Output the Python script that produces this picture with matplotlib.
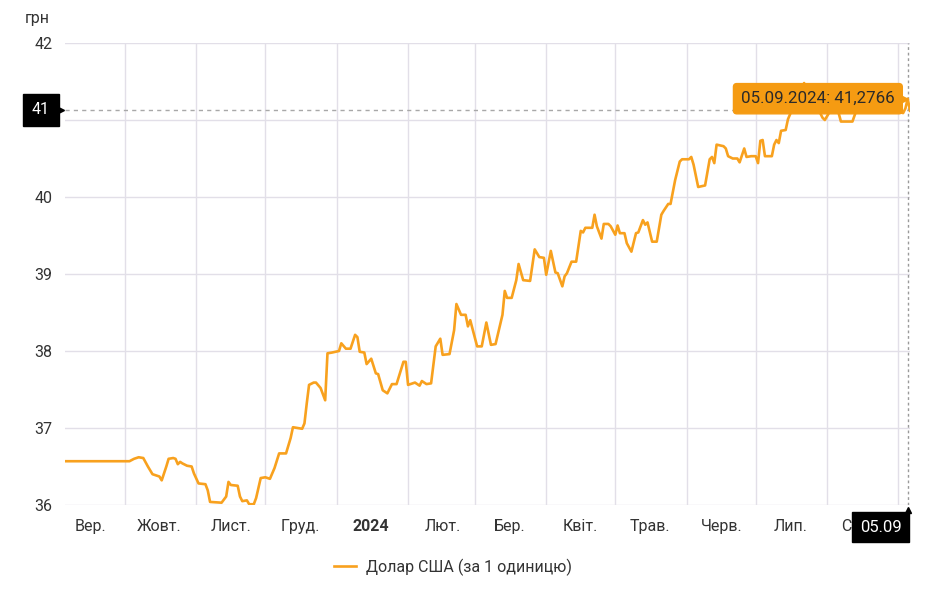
import matplotlib
matplotlib.use('Agg')
import matplotlib.pyplot as plt
import matplotlib.transforms as mtransforms
import matplotlib.dates as mdates
import pandas as pd

plt.rcParams['font.family'] = ['Roboto', 'DejaVu Sans']

# USD/UAH official rate
dates = [
    '2023-09-05', '2023-10-03', '2023-10-05', '2023-10-07', '2023-10-09', '2023-10-11',
    '2023-10-13', '2023-10-16', '2023-10-17', '2023-10-19', '2023-10-20', '2023-10-22',
    '2023-10-23', '2023-10-24', '2023-10-25', '2023-10-26', '2023-10-28', '2023-10-30',
    '2023-10-31', '2023-11-02', '2023-11-05', '2023-11-06', '2023-11-07', '2023-11-12',
    '2023-11-14', '2023-11-15', '2023-11-16', '2023-11-19', '2023-11-20', '2023-11-21',
    '2023-11-23', '2023-11-24', '2023-11-26', '2023-11-27', '2023-11-29', '2023-12-01',
    '2023-12-03', '2023-12-05', '2023-12-07', '2023-12-10', '2023-12-12', '2023-12-13',
    '2023-12-17', '2023-12-18', '2023-12-19', '2023-12-20', '2023-12-22', '2023-12-23',
    '2023-12-25', '2023-12-27', '2023-12-28', '2023-12-30',
    '2024-01-02', '2024-01-03', '2024-01-05', '2024-01-07', '2024-01-09', '2024-01-10',
    '2024-01-11', '2024-01-13', '2024-01-14', '2024-01-16', '2024-01-18', '2024-01-19',
    '2024-01-21', '2024-01-23', '2024-01-25', '2024-01-27', '2024-01-30', '2024-01-31',
    '2024-02-01', '2024-02-04', '2024-02-06', '2024-02-07', '2024-02-09', '2024-02-11',
    '2024-02-13', '2024-02-15', '2024-02-16', '2024-02-19', '2024-02-21', '2024-02-22',
    '2024-02-24', '2024-02-26', '2024-02-27', '2024-02-28', '2024-03-02', '2024-03-04',
    '2024-03-06', '2024-03-08', '2024-03-10', '2024-03-13', '2024-03-14', '2024-03-15',
    '2024-03-17', '2024-03-19', '2024-03-20', '2024-03-22', '2024-03-25', '2024-03-27',
    '2024-03-29', '2024-03-31', '2024-04-01', '2024-04-03', '2024-04-05', '2024-04-06',
    '2024-04-08', '2024-04-09', '2024-04-10', '2024-04-12', '2024-04-14', '2024-04-16',
    '2024-04-17', '2024-04-18', '2024-04-21', '2024-04-22', '2024-04-23', '2024-04-25',
    '2024-04-26', '2024-04-28', '2024-04-29', '2024-05-01', '2024-05-02', '2024-05-03',
    '2024-05-05', '2024-05-06', '2024-05-08', '2024-05-10', '2024-05-11', '2024-05-13',
    '2024-05-14', '2024-05-15', '2024-05-17', '2024-05-19', '2024-05-21', '2024-05-22',
    '2024-05-24', '2024-05-25', '2024-05-27', '2024-05-29', '2024-05-30', '2024-06-02',
    '2024-06-03', '2024-06-04', '2024-06-06', '2024-06-09', '2024-06-11', '2024-06-12',
    '2024-06-13', '2024-06-14', '2024-06-17', '2024-06-18', '2024-06-19', '2024-06-21',
    '2024-06-23', '2024-06-24', '2024-06-26', '2024-06-27', '2024-06-29', '2024-07-01',
    '2024-07-02', '2024-07-03', '2024-07-04', '2024-07-05', '2024-07-08', '2024-07-09',
    '2024-07-10', '2024-07-11', '2024-07-12', '2024-07-14', '2024-07-15', '2024-07-17',
    '2024-07-19', '2024-07-21', '2024-07-22', '2024-07-24', '2024-07-26', '2024-07-28',
    '2024-07-30', '2024-07-31', '2024-08-03', '2024-08-05', '2024-08-07', '2024-08-09',
    '2024-08-12', '2024-08-14', '2024-08-17', '2024-08-20', '2024-08-24', '2024-08-27',
    '2024-08-30', '2024-09-02', '2024-09-03', '2024-09-04', '2024-09-05', '2024-09-06',
]
values = [
    36.5686, 36.5686, 36.60, 36.62, 36.61, 36.50,
    36.40, 36.37, 36.32, 36.50, 36.60, 36.61,
    36.60, 36.53, 36.56, 36.54, 36.51, 36.50,
    36.41, 36.28, 36.27, 36.19, 36.04, 36.03,
    36.11, 36.30, 36.26, 36.25, 36.11, 36.05,
    36.06, 36.01, 36.01, 36.09, 36.35, 36.36,
    36.34, 36.48, 36.67, 36.67, 36.87, 37.01,
    36.99, 37.06, 37.32, 37.56, 37.59, 37.59,
    37.52, 37.36, 37.97, 37.98,
    38.00, 38.10, 38.03, 38.03, 38.21, 38.18,
    37.99, 37.98, 37.83, 37.90, 37.71, 37.70,
    37.49, 37.45, 37.57, 37.57, 37.86, 37.86,
    37.56, 37.59, 37.55, 37.61, 37.57, 37.58,
    38.06, 38.16, 37.95, 37.96, 38.27, 38.61,
    38.47, 38.47, 38.32, 38.40, 38.06, 38.06,
    38.37, 38.08, 38.09, 38.47, 38.78, 38.69,
    38.69, 38.92, 39.13, 38.92, 38.91, 39.32,
    39.22, 39.21, 38.99, 39.30, 39.02, 39.01,
    38.84, 38.97, 39.01, 39.16, 39.16, 39.56,
    39.54, 39.60, 39.60, 39.77, 39.62, 39.46,
    39.65, 39.65, 39.62, 39.51, 39.63, 39.53,
    39.53, 39.40, 39.29, 39.53, 39.54, 39.70,
    39.64, 39.67, 39.42, 39.42, 39.77, 39.82,
    39.91, 39.91, 40.22, 40.46, 40.49, 40.49,
    40.52, 40.42, 40.13, 40.15, 40.49, 40.52,
    40.44, 40.68, 40.66, 40.63, 40.53, 40.50,
    40.50, 40.45, 40.63, 40.52, 40.53, 40.53,
    40.44, 40.73, 40.74, 40.53, 40.53, 40.68,
    40.74, 40.70, 40.86, 40.87, 41.01, 41.15,
    41.20, 41.30, 41.48, 41.25, 41.20, 41.15,
    41.03, 41.00, 41.15, 41.20, 40.98, 40.98,
    40.98, 41.15, 41.22, 41.25, 41.20, 41.22,
    41.20, 41.10, 41.09, 41.15, 41.2766, 41.12,
]

month_starts = pd.date_range('2023-10-01', '2024-09-01', freq='MS')
label_days = ['2023-09-16', '2023-10-16', '2023-11-16', '2023-12-16', '2024-01-16', '2024-02-16',
              '2024-03-16', '2024-04-16', '2024-05-16', '2024-06-16', '2024-07-16', '2024-08-16']
month_labels = ['Вер.', 'Жовт.', 'Лист.', 'Груд.', '2024', 'Лют.',
                'Бер.', 'Квіт.', 'Трав.', 'Черв.', 'Лип.', 'Серп.']
y_ticks = [36, 37, 38, 39, 40, 41, 42]

hover_date = pd.Timestamp('2024-09-05')
hover_value = 41.2766
hover_line_y = 41.13   # where the dashed crosshair sits in the picture

line_color = '#F8A11E'
tip_color = '#F59B12'
text_color = '#333333'

x = mdates.date2num(pd.to_datetime(dates).to_pydatetime())
hx = mdates.date2num(hover_date.to_pydatetime())

fig = plt.figure(figsize=(9.36, 6), dpi=100)
ax = fig.add_axes([65 / 936, 95 / 600, 845 / 936, 462 / 600])

ax.plot(x, values, color=line_color, lw=1.9, zorder=3, label='Долар США (за 1 одиницю)')

ax.set_xlim(x[0], x[-1])
ax.set_ylim(36, 42)
ax.set_yticks(y_ticks)
ax.set_yticklabels([str(v) for v in y_ticks])
ax.set_xticks(mdates.date2num(month_starts.to_pydatetime()))
ax.set_xticklabels([''] * len(month_starts))
ax.set_xticks(mdates.date2num(pd.to_datetime(label_days).to_pydatetime()), minor=True)
ax.set_xticklabels(month_labels, minor=True)
for lbl in ax.get_xticklabels(minor=True):
    if lbl.get_text() == '2024':
        lbl.set_fontweight('bold')

ax.tick_params(axis='both', which='both', length=0, labelsize=11.5, colors=text_color)
ax.tick_params(axis='y', pad=9)
ax.tick_params(axis='x', which='minor', pad=10)
ax.grid(True, which='major', color='#E2DFE8', lw=1)
ax.set_axisbelow(True)
for s in ax.spines.values():
    s.set_visible(False)

fig.text(25 / 936, 1 - 18 / 600, 'грн', fontsize=11.5, color=text_color, ha='left', va='center')

# crosshair
ax.axvline(hx, color='#9A9A9A', lw=1, ls=(0, (2, 2)), zorder=2)
ax.plot([x[0], hx], [hover_line_y, hover_line_y], color='#A8A8A8', lw=1,
        ls=(0, (3, 3)), zorder=2)

# tooltip
tip_text = '{}: {}'.format(hover_date.strftime('%d.%m.%Y'), f'{hover_value:.4f}'.replace('.', ','))
ax.annotate(tip_text, xy=(hx, hover_value), xytext=(-13, 0), textcoords='offset pixels',
            ha='right', va='center', fontsize=12.2, color='#2a2a2a', zorder=6,
            bbox=dict(boxstyle='round,pad=0.45,rounding_size=0.2', fc=tip_color, ec=tip_color))
notch = mtransforms.offset_copy(ax.transData, fig=fig, x=-3, y=0, units='dots')
ax.plot([hx], [hover_value], marker='>', ms=5, color=tip_color, zorder=6,
        transform=notch, clip_on=False)

# axis tags
blend_y = mtransforms.blended_transform_factory(ax.transAxes, ax.transData)
ax.annotate(str(int(hover_line_y)), xy=(0, hover_line_y), xycoords=blend_y,
            xytext=(-24, 0), textcoords='offset pixels', ha='center', va='center',
            fontsize=11.5, color='white', annotation_clip=False, zorder=7,
            bbox=dict(boxstyle='square,pad=0.55', fc='black', ec='black'))
ax.plot([-0.006], [hover_line_y], marker='>', ms=6, color='black',
        transform=blend_y, clip_on=False, zorder=7)

blend_x = mtransforms.blended_transform_factory(ax.transData, ax.transAxes)
ax.annotate(hover_date.strftime('%d.%m'), xy=(hx, 0), xycoords=blend_x,
            xytext=(-27, -22), textcoords='offset pixels', ha='center', va='center',
            fontsize=12, color='white', annotation_clip=False, zorder=7,
            bbox=dict(boxstyle='square,pad=0.45', fc='black', ec='black'))
ax.plot([hx], [-0.01], marker='^', ms=5, color='black',
        transform=blend_x, clip_on=False, zorder=7)

fig.legend(loc='center', bbox_to_anchor=(453 / 936, 1 - 567 / 600), frameon=False,
           fontsize=11.5, handlelength=1.4, handletextpad=0.6, labelcolor=text_color)

fig.savefig('out.png', dpi=100, facecolor='white')
